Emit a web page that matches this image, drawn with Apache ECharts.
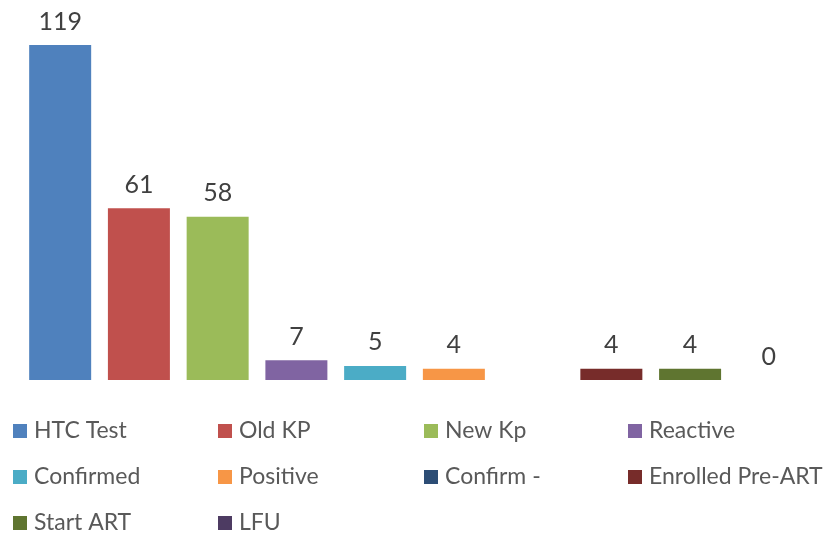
<!DOCTYPE html>
<html>
<head>
<meta charset="utf-8">
<script src="https://cdn.jsdelivr.net/npm/echarts@6/dist/echarts.min.js"></script>
<style>
  html, body { margin: 0; padding: 0; background: #fff; }
  #main { width: 828px; height: 537px; }
</style>
</head>
<body>
<div id="main"></div>
<script>
// series names, one bar each
var seriesNames = ['HTC Test', 'Old KP', 'New Kp', 'Reactive', 'Confirmed', 'Positive',
    'Confirm -', 'Enrolled Pre-ART', 'Start ART', 'LFU'];
var seriesValues = [119, 61, 58, 7, 5, 4, null, 4, 4, 0];
var seriesColors = ['#4F81BD', '#C0504D', '#9BBB59', '#8064A2', '#4BACC6', '#F79646',
    '#2C4D75', '#772C2A', '#5F7530', '#4D3B62'];
// legend columns (left to right)
var legendCols = [
    ['HTC Test', 'Confirmed', 'Start ART'],
    ['Old KP', 'Positive', 'LFU'],
    ['New Kp', 'Confirm -'],
    ['Reactive', 'Enrolled Pre-ART']
];
var legendLeft = [13, 218, 424, 628];

var fontFam = 'Lato, "Open Sans", sans-serif';
var chart = echarts.init(document.getElementById('main'));

var series = [];
for (var i = 0; i < seriesNames.length; i++) {
    series.push({
        type: 'bar',
        name: seriesNames[i],
        data: [seriesValues[i]],
        barWidth: 62,
        barGap: '27%',
        itemStyle: { color: seriesColors[i] },
        label: {
            show: true,
            position: 'top',
            distance: 11,
            color: '#404040',
            fontFamily: fontFam,
            fontSize: 25
        }
    });
}

var legends = [];
for (var c = 0; c < legendCols.length; c++) {
    legends.push({
        data: legendCols[c],
        orient: 'vertical',
        left: legendLeft[c],
        top: 419,
        padding: 0,
        itemGap: 22,
        itemWidth: 14,
        itemHeight: 14,
        icon: 'rect',
        selectedMode: false,
        textStyle: {
            color: '#595959',
            fontFamily: fontFam,
            fontSize: 23,
            lineHeight: 24,
            padding: [0, 0, 0, 2]
        }
    });
}

chart.setOption({
    animation: false,
    grid: { left: 20, right: 19, top: 45, bottom: 157 },
    legend: legends,
    xAxis: {
        type: 'category',
        data: [''],
        axisLine: { show: false },
        axisTick: { show: false },
        axisLabel: { show: false }
    },
    yAxis: {
        type: 'value',
        min: 0,
        max: 119,
        show: false,
        splitLine: { show: false }
    },
    series: series
});
</script>
</body>
</html>
